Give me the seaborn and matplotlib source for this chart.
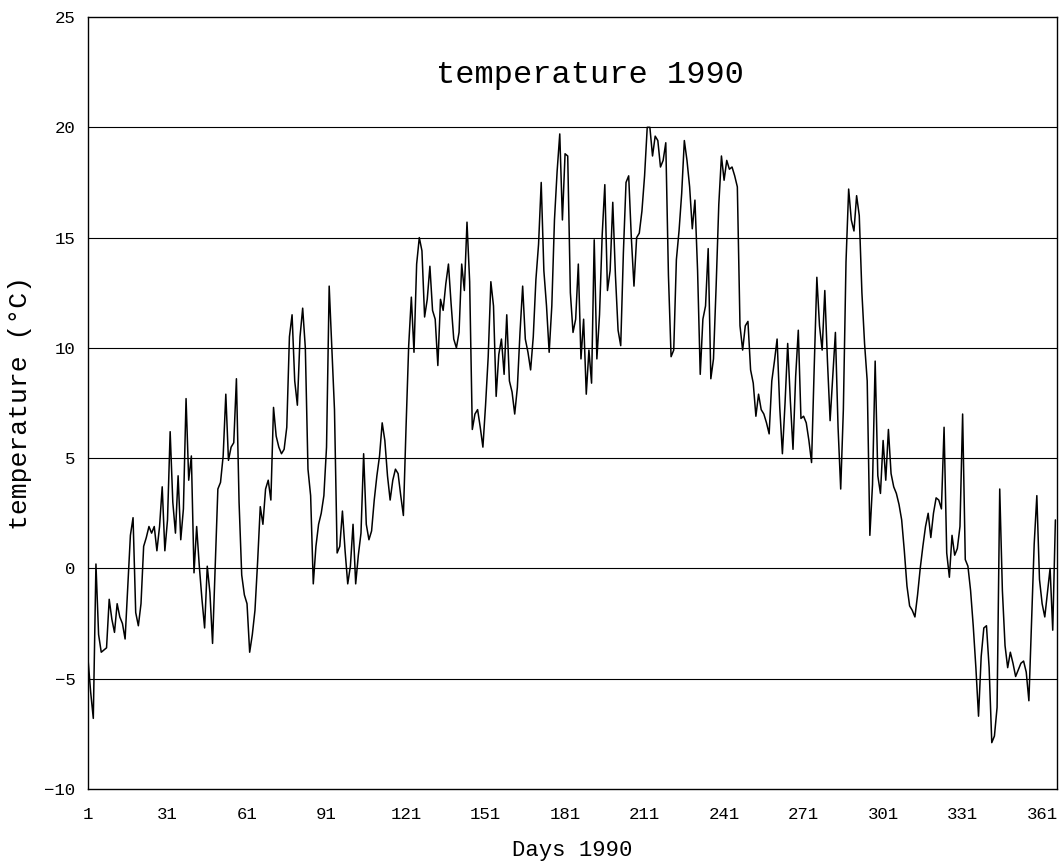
import numpy as np
import pandas as pd
import matplotlib
matplotlib.use("Agg")
import matplotlib.pyplot as plt
import seaborn as sns

# Daily mean air temperature, 1990 (°C)
temps = [
    -4.1, -5.6, -6.8, 0.2, -3.0, -3.8, -3.7, -3.6, -1.4, -2.3,
    -2.9, -1.6, -2.2, -2.5, -3.2, -0.8, 1.5, 2.3, -2.0, -2.6,
    -1.6, 1.0, 1.4, 1.9, 1.6, 1.9, 0.8, 1.9, 3.7, 0.8,
    2.2, 6.2, 3.0, 1.6, 4.2, 1.3, 2.7, 7.7, 4.0, 5.1,
    -0.2, 1.9, 0.1, -1.4, -2.7, 0.1, -1.1, -3.4, 0.1, 3.6,
    3.9, 5.1, 7.9, 4.9, 5.5, 5.7, 8.6, 3.0, -0.3, -1.2,
    -1.6, -3.8, -3.0, -1.9, 0.3, 2.8, 2.0, 3.6, 4.0, 3.1,
    7.3, 6.0, 5.5, 5.2, 5.4, 6.4, 10.5, 11.5, 8.5, 7.4,
    10.5, 11.8, 10.0, 4.5, 3.3, -0.7, 1.0, 2.0, 2.5, 3.3,
    5.5, 12.8, 10.0, 7.2, 0.7, 1.0, 2.6, 0.8, -0.7, 0.1,
    2.0, -0.7, 0.6, 1.6, 5.2, 2.0, 1.3, 1.7, 3.1, 4.2,
    5.1, 6.6, 5.8, 4.2, 3.1, 4.0, 4.5, 4.3, 3.3, 2.4,
    6.4, 10.1, 12.3, 9.8, 13.8, 15.0, 14.4, 11.4, 12.2, 13.7,
    11.7, 11.3, 9.2, 12.2, 11.7, 12.9, 13.8, 12.0, 10.4, 10.0,
    10.7, 13.8, 12.6, 15.7, 13.0, 6.3, 7.0, 7.2, 6.4, 5.5,
    7.4, 9.6, 13.0, 11.9, 7.8, 9.7, 10.4, 8.8, 11.5, 8.5,
    8.0, 7.0, 8.2, 10.7, 12.8, 10.4, 9.8, 9.0, 10.5, 13.1,
    14.7, 17.5, 13.5, 11.9, 9.8, 11.9, 15.8, 18.0, 19.7, 15.8,
    18.8, 18.7, 12.5, 10.7, 11.3, 13.8, 9.5, 11.3, 7.9, 9.9,
    8.4, 14.9, 9.5, 11.5, 15.1, 17.4, 12.6, 13.5, 16.6, 13.3,
    10.8, 10.1, 14.3, 17.5, 17.8, 15.0, 12.8, 15.0, 15.2, 16.2,
    17.8, 20.0, 20.0, 18.7, 19.6, 19.4, 18.2, 18.5, 19.3, 13.3,
    9.6, 9.9, 14.0, 15.3, 17.0, 19.4, 18.5, 17.3, 15.4, 16.7,
    13.5, 8.8, 11.3, 11.9, 14.5, 8.6, 9.5, 12.8, 16.5, 18.7,
    17.6, 18.5, 18.1, 18.2, 17.8, 17.3, 11.0, 9.9, 11.0, 11.2,
    9.0, 8.4, 6.9, 7.9, 7.2, 7.0, 6.6, 6.1, 8.5, 9.4,
    10.4, 7.3, 5.2, 7.5, 10.2, 7.6, 5.4, 8.7, 10.8, 6.8,
    6.9, 6.6, 5.8, 4.8, 9.1, 13.2, 11.0, 9.9, 12.6, 9.4,
    6.7, 8.7, 10.7, 6.4, 3.6, 7.2, 13.9, 17.2, 15.8, 15.3,
    16.9, 16.0, 12.5, 10.2, 8.5, 1.5, 3.8, 9.4, 4.2, 3.4,
    5.8, 4.0, 6.3, 4.3, 3.7, 3.4, 2.9, 2.2, 0.8, -0.8,
    -1.7, -1.9, -2.2, -1.2, 0.0, 1.0, 1.9, 2.5, 1.4, 2.5,
    3.2, 3.1, 2.7, 6.4, 0.7, -0.4, 1.5, 0.6, 0.9, 1.9,
    7.0, 0.4, 0.1, -1.0, -2.6, -4.5, -6.7, -4.0, -2.7, -2.6,
    -4.5, -7.9, -7.6, -6.3, 3.6, -1.0, -3.5, -4.5, -3.8, -4.3,
    -4.9, -4.6, -4.3, -4.2, -4.7, -6.0, -2.5, 1.1, 3.3, -0.5,
    -1.6, -2.2, -1.1, 0.0, -2.8, 2.2,
]
days = list(range(1, len(temps) + 1))

x_ticks = [1, 31, 61, 91, 121, 151, 181, 211, 241, 271, 301, 331, 361]
y_ticks = [-10, -5, 0, 5, 10, 15, 20, 25]

df = pd.DataFrame({"day": days, "temperature": temps})

sns.set_theme(style="white")
plt.rcParams["font.family"] = ["Liberation Mono", "DejaVu Sans Mono"]

fig = plt.figure(figsize=(10.64, 8.65), dpi=100)
ax = fig.add_axes([0.0827, 0.0879, 0.9107, 0.8924])

sns.lineplot(data=df, x="day", y="temperature", color="black",
             linewidth=1.1, ax=ax)

ax.set_xlim(1, 366.6)
ax.set_ylim(-10, 25)
ax.set_xticks(x_ticks)
ax.set_yticks(y_ticks)
ax.set_xticklabels([str(t) for t in x_ticks])
ax.set_yticklabels([str(t).replace("-", "\u2212") for t in y_ticks])
ax.tick_params(axis="both", length=0, labelsize=12.5, colors="black")
ax.tick_params(axis="x", pad=13)
ax.tick_params(axis="y", pad=9)

# horizontal reference lines every 5 °C
for v in y_ticks[1:-1]:
    ax.axhline(v, color="black", linewidth=0.8, zorder=1)

for s in ax.spines.values():
    s.set_color("black")
    s.set_linewidth(1.0)

ax.set_xlabel("Days 1990", fontsize=16, color="black")
ax.set_ylabel("temperature (°C)", fontsize=19, color="black")
ax.xaxis.set_label_coords(0.5, -0.066)
ax.yaxis.set_label_coords(-0.058, 0.5)
ax.text(0.518, 0.925, "temperature 1990", transform=ax.transAxes,
        ha="center", va="center", fontsize=23, color="black")

fig.savefig("out.png", dpi=100)
